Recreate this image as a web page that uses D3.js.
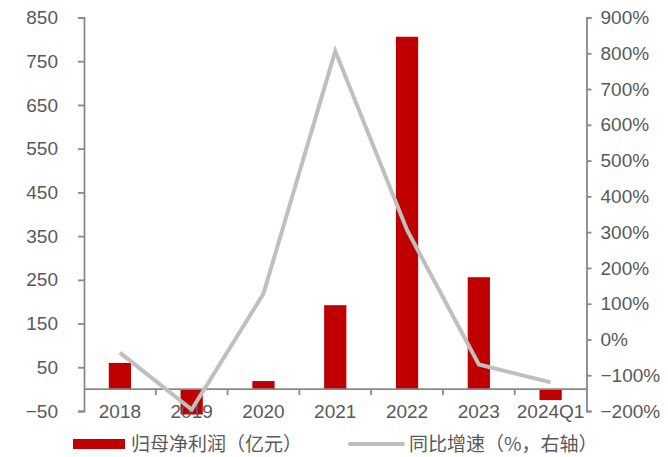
<!DOCTYPE html>
<html>
<head>
<meta charset="utf-8">
<script src="https://cdn.jsdelivr.net/npm/d3@7/dist/d3.min.js"></script>
<style>
  html, body { margin: 0; padding: 0; background: #fff; }
  svg { display: block; }
  .tick text { font-family: "Liberation Sans", Arial, sans-serif; }
</style>
</head>
<body>
<svg id="chart" width="668" height="457"></svg>
<script>
// Net profit attributable to parent (100m CNY) and YoY growth
const categories = ["2018", "2019", "2020", "2021", "2022", "2023", "2024Q1"];
const netProfit = [60, -58, 18.5, 192, 806, 256, -25];
const yoyGrowth = [-37, -196, 128, 806, 306, -70, -120]; // percent
const leftTicks = [-50, 50, 150, 250, 350, 450, 550, 650, 750, 850];
const rightTicks = [-200, -100, 0, 100, 200, 300, 400, 500, 600, 700, 800, 900];
const legendLabels = ["归母净利润（亿元）", "同比增速（%，右轴）"];

const svg = d3.select("#chart");
const plotLeft = 84, plotRight = 586.5, plotTop = 17.5, plotBottom = 411;
const axisColor = "#898989", textColor = "#595959";
const barColor = "#C00000", lineColor = "#BFBFBF";
const tickFont = 19;

const x = d3.scaleBand().domain(categories).range([plotLeft, plotRight]).paddingInner(0).paddingOuter(0);
const yL = d3.scaleLinear().domain([-50, 850]).range([plotBottom, plotTop]);
const yR = d3.scaleLinear().domain([-200, 900]).range([plotBottom, plotTop]);

const barW = x.bandwidth() * 0.31;

// bars
svg.append("g").selectAll("rect").data(categories).join("rect")
  .attr("x", d => x(d) + x.bandwidth() / 2 - barW / 2)
  .attr("y", (d, i) => yL(Math.max(0, netProfit[i])))
  .attr("width", barW)
  .attr("height", (d, i) => Math.abs(yL(netProfit[i]) - yL(0)))
  .attr("fill", barColor);

// left axis
const gL = svg.append("g").attr("transform", `translate(${plotLeft},0)`)
  .call(d3.axisLeft(yL).tickValues(leftTicks).tickSize(6).tickPadding(20).tickFormat(d => d < 0 ? "−" + Math.abs(d) : d));
// right axis
const gR = svg.append("g").attr("transform", `translate(${plotRight},0)`)
  .call(d3.axisRight(yR).tickValues(rightTicks).tickSize(5).tickPadding(9).tickFormat(d => (d < 0 ? "−" + Math.abs(d) : d) + "%"));

[gL, gR].forEach(g => {
  g.select(".domain").attr("stroke", axisColor).attr("stroke-width", 1.8);
  g.selectAll(".tick line").attr("stroke", axisColor).attr("stroke-width", 1.8);
  g.selectAll(".tick text").attr("fill", textColor).attr("font-size", tickFont);
});

// category axis along zero
const y0 = yL(0);
svg.append("line")
  .attr("x1", plotLeft).attr("x2", plotRight).attr("y1", y0).attr("y2", y0)
  .attr("stroke", axisColor).attr("stroke-width", 1.8);
svg.append("g").selectAll("line").data(categories.slice(1)).join("line")
  .attr("x1", d => x(d)).attr("x2", d => x(d))
  .attr("y1", y0).attr("y2", y0 + 6)
  .attr("stroke", axisColor).attr("stroke-width", 1.8);
svg.append("g").selectAll("text").data(categories).join("text")
  .attr("x", d => x(d) + x.bandwidth() / 2)
  .attr("y", 418)
  .attr("text-anchor", "middle")
  .attr("font-family", "'Liberation Sans', Arial, sans-serif")
  .attr("font-size", tickFont)
  .attr("fill", textColor)
  .text(d => d);

// growth line
const line = d3.line()
  .x((d, i) => x(categories[i]) + x.bandwidth() / 2)
  .y(d => yR(d));
svg.append("path").datum(yoyGrowth)
  .attr("d", line)
  .attr("fill", "none")
  .attr("stroke", lineColor)
  .attr("stroke-width", 4);

// legend
const ly = 444;
const leg = svg.append("g").attr("font-family", "'Noto Sans CJK SC', sans-serif").attr("font-size", 19).attr("fill", textColor);
leg.append("rect").attr("x", 73).attr("y", ly - 5).attr("width", 52).attr("height", 10).attr("fill", barColor);
leg.append("text").attr("x", 131).attr("y", ly + 6.5).text(legendLabels[0]);
leg.append("line").attr("x1", 350).attr("x2", 403).attr("y1", ly).attr("y2", ly)
  .attr("stroke", lineColor).attr("stroke-width", 4).attr("stroke-linecap", "round");
leg.append("text").attr("x", 409).attr("y", ly + 6.5).text(legendLabels[1]);
</script>
</body>
</html>
